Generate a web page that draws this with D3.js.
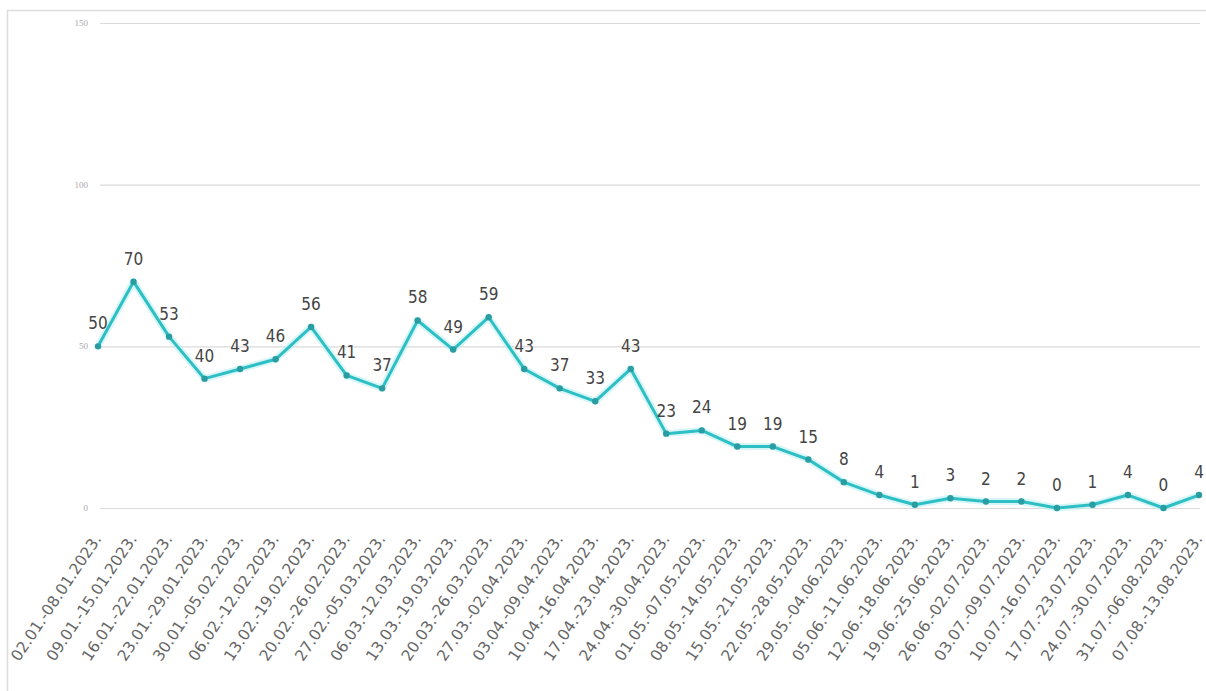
<!DOCTYPE html>
<html><head><meta charset="utf-8">
<script src="https://cdn.jsdelivr.net/npm/d3@7"></script>
<style>body{margin:0;background:#fff}svg{display:block}</style>
</head><body><svg id="c" width="1206" height="691"></svg>
<script>
const categories = ["02.01.-08.01.2023.","09.01.-15.01.2023.","16.01.-22.01.2023.","23.01.-29.01.2023.","30.01.-05.02.2023.","06.02.-12.02.2023.","13.02.-19.02.2023.","20.02.-26.02.2023.","27.02.-05.03.2023.","06.03.-12.03.2023.","13.03.-19.03.2023.","20.03.-26.03.2023.","27.03.-02.04.2023.","03.04.-09.04.2023.","10.04.-16.04.2023.","17.04.-23.04.2023.","24.04.-30.04.2023.","01.05.-07.05.2023.","08.05.-14.05.2023.","15.05.-21.05.2023.","22.05.-28.05.2023.","29.05.-04.06.2023.","05.06.-11.06.2023.","12.06.-18.06.2023.","19.06.-25.06.2023.","26.06.-02.07.2023.","03.07.-09.07.2023.","10.07.-16.07.2023.","17.07.-23.07.2023.","24.07.-30.07.2023.","31.07.-06.08.2023.","07.08.-13.08.2023."];
const values = [50,70,53,40,43,46,56,41,37,58,49,59,43,37,33,43,23,24,19,19,15,8,4,1,3,2,2,0,1,4,0,4];
const yTicks = [0,50,100,150];

const svg = d3.select("#c");
svg.append("path").attr("d","M7.5,691 V10.5 H1206").attr("fill","none").attr("stroke","#dcdcdc").attr("stroke-width",1.5);

const x = d3.scalePoint().domain(categories).range([98,1199]);
const y = d3.scaleLinear().domain([0,150]).range([508,23]);

const grid = svg.append("g");
grid.selectAll("line").data(yTicks).join("line")
  .attr("x1",100).attr("x2",1200)
  .attr("y1",d=>y(d)+0.5).attr("y2",d=>y(d)+0.5)
  .attr("stroke","#dadada").attr("stroke-width",1.2);
grid.selectAll("text").data(yTicks).join("text")
  .attr("x",88).attr("y",d=>y(d)+3)
  .attr("text-anchor","end")
  .attr("font-family","Liberation Serif").attr("font-size",9)
  .attr("fill","#a8a8a8").text(d=>d);

svg.append("g").selectAll("text").data(categories).join("text")
  .attr("transform",d=>`translate(${x(d)+4},${539}) rotate(-56)`)
  .attr("text-anchor","end")
  .attr("font-family","'DejaVu Sans'")
  .attr("font-size",15.5).attr("fill","#666").text(d=>d);

const line = d3.line().x((d,i)=>x(categories[i])).y(d=>y(d));
svg.append("path").datum(values).attr("d",line).attr("fill","none")
  .attr("stroke","#bdf0f2").attr("stroke-width",7).attr("stroke-linejoin","round").attr("opacity",0.6);
svg.append("path").datum(values).attr("d",line).attr("fill","none")
  .attr("stroke","#2ebfc4").attr("stroke-width",3).attr("stroke-linejoin","round");

svg.append("g").selectAll("circle").data(values).join("circle")
  .attr("cx",(d,i)=>x(categories[i])).attr("cy",d=>y(d)).attr("r",3.2)
  .attr("fill","#2a9da3");

svg.append("g").selectAll("text").data(values).join("text")
  .attr("x",(d,i)=>x(categories[i])).attr("y",d=>y(d)-17)
  .attr("text-anchor","middle")
  .attr("font-family","'DejaVu Sans'").attr("font-stretch","condensed")
  .attr("font-size",17).attr("fill","#454545").text(d=>d);
</script></body></html>
